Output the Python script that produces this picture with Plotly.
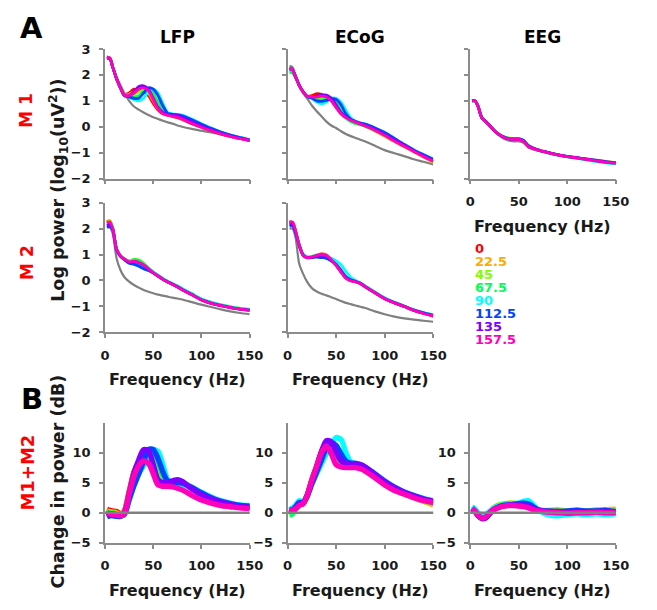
import plotly.graph_objects as go

# ---------------- data ----------------
freq = [2, 5, 8, 12, 16, 20, 25, 30, 35, 40, 45, 50, 55, 60, 65, 70, 75, 80, 90, 100, 110, 120, 130, 140, 150]
orientations = ["0", "22.5", "45", "67.5", "90", "112.5", "135", "157.5"]
colors = ["#ff0000", "#ffaa00", "#80ff00", "#00ff55", "#00ffff", "#0044ff", "#8000ff", "#ff00bb"]
columns = ["LFP", "ECoG", "EEG"]
rows = ["M 1", "M 2"]
yticks_a = [-2, -1, 0, 1, 2, 3]
yticks_b = [-5, 0, 5, 10]
xticks = [0, 50, 100, 150]

# Panel A, M1, LFP (log power)
lfp_m1_gray = [2.7, 2.6, 2.3, 1.9, 1.6, 1.3, 1.0, 0.78, 0.66, 0.55, 0.45, 0.37, 0.3, 0.23, 0.17, 0.12, 0.05, 0.0, -0.08, -0.15, -0.22, -0.29, -0.36, -0.45, -0.56]
lfp_m1 = [
    [2.68, 2.65, 2.3, 1.85, 1.5, 1.25, 1.3, 1.45, 1.4, 1.35, 1.2, 0.9, 0.65, 0.5, 0.45, 0.4, 0.35, 0.28, 0.12, -0.02, -0.15, -0.27, -0.37, -0.45, -0.52],
    [2.68, 2.65, 2.3, 1.85, 1.5, 1.24, 1.25, 1.35, 1.4, 1.45, 1.3, 1.0, 0.7, 0.52, 0.45, 0.42, 0.38, 0.3, 0.15, 0.0, -0.13, -0.26, -0.36, -0.45, -0.52],
    [2.66, 2.64, 2.3, 1.85, 1.5, 1.22, 1.2, 1.25, 1.35, 1.45, 1.4, 1.15, 0.8, 0.55, 0.48, 0.45, 0.42, 0.35, 0.2, 0.05, -0.1, -0.23, -0.34, -0.43, -0.5],
    [2.66, 2.64, 2.3, 1.85, 1.5, 1.2, 1.15, 1.15, 1.2, 1.35, 1.45, 1.3, 0.95, 0.6, 0.5, 0.47, 0.44, 0.38, 0.22, 0.07, -0.08, -0.22, -0.33, -0.42, -0.5],
    [2.64, 2.62, 2.3, 1.85, 1.5, 1.2, 1.15, 1.05, 1.0, 1.1, 1.35, 1.45, 1.3, 0.9, 0.55, 0.5, 0.48, 0.45, 0.3, 0.12, -0.05, -0.2, -0.32, -0.42, -0.5],
    [2.64, 2.62, 2.3, 1.85, 1.5, 1.2, 1.15, 1.1, 1.1, 1.3, 1.5, 1.45, 1.2, 0.8, 0.52, 0.48, 0.46, 0.42, 0.27, 0.1, -0.06, -0.2, -0.32, -0.42, -0.5],
    [2.66, 2.64, 2.3, 1.85, 1.5, 1.22, 1.2, 1.35, 1.55, 1.58, 1.45, 1.1, 0.75, 0.55, 0.47, 0.45, 0.45, 0.38, 0.2, 0.03, -0.12, -0.25, -0.36, -0.45, -0.52],
    [2.68, 2.65, 2.3, 1.85, 1.5, 1.22, 1.2, 1.3, 1.45, 1.5, 1.4, 1.05, 0.7, 0.5, 0.45, 0.4, 0.37, 0.3, 0.13, -0.02, -0.15, -0.27, -0.37, -0.46, -0.53],
]

# Panel A, M1, ECoG
ecog_m1_gray = [2.35, 2.3, 2.0, 1.6, 1.3, 1.1, 0.82, 0.6, 0.4, 0.2, 0.05, -0.05, -0.17, -0.28, -0.36, -0.43, -0.5, -0.57, -0.73, -0.9, -1.02, -1.13, -1.25, -1.35, -1.45]
ecog_m1 = [
    [2.25, 2.2, 1.95, 1.6, 1.35, 1.18, 1.2, 1.28, 1.25, 1.15, 1.0, 0.75, 0.5, 0.35, 0.25, 0.18, 0.1, 0.02, -0.15, -0.35, -0.55, -0.75, -0.95, -1.15, -1.35],
    [2.22, 2.18, 1.95, 1.6, 1.35, 1.18, 1.15, 1.15, 1.2, 1.2, 1.05, 0.8, 0.52, 0.35, 0.25, 0.18, 0.1, 0.02, -0.16, -0.37, -0.57, -0.77, -0.97, -1.17, -1.38],
    [2.15, 2.12, 1.92, 1.6, 1.35, 1.17, 1.12, 1.1, 1.1, 1.15, 1.1, 0.9, 0.6, 0.4, 0.27, 0.18, 0.1, 0.03, -0.14, -0.34, -0.54, -0.74, -0.94, -1.13, -1.33],
    [2.1, 2.08, 1.9, 1.6, 1.35, 1.17, 1.12, 1.05, 1.02, 1.1, 1.12, 0.95, 0.65, 0.35, 0.2, 0.12, 0.08, 0.02, -0.13, -0.32, -0.52, -0.72, -0.92, -1.1, -1.3],
    [2.2, 2.18, 1.95, 1.6, 1.35, 1.17, 1.1, 0.95, 0.88, 0.95, 1.1, 1.1, 0.95, 0.65, 0.35, 0.22, 0.15, 0.1, -0.05, -0.22, -0.45, -0.67, -0.88, -1.07, -1.25],
    [2.22, 2.2, 1.95, 1.6, 1.35, 1.17, 1.1, 1.0, 0.98, 1.02, 1.08, 1.05, 0.85, 0.5, 0.3, 0.2, 0.14, 0.1, -0.05, -0.22, -0.45, -0.68, -0.9, -1.08, -1.25],
    [2.25, 2.2, 1.95, 1.6, 1.35, 1.18, 1.15, 1.18, 1.22, 1.22, 1.1, 0.85, 0.55, 0.38, 0.27, 0.2, 0.12, 0.05, -0.1, -0.3, -0.5, -0.7, -0.92, -1.12, -1.32],
    [2.25, 2.2, 1.95, 1.6, 1.35, 1.18, 1.15, 1.15, 1.18, 1.15, 1.0, 0.75, 0.5, 0.35, 0.25, 0.18, 0.1, 0.03, -0.13, -0.33, -0.55, -0.75, -0.95, -1.15, -1.32],
]

# Panel A, M1, EEG
eeg_m1_gray = [1.0, 1.0, 0.78, 0.33, 0.17, 0.02, -0.18, -0.34, -0.46, -0.54, -0.56, -0.56, -0.62, -0.8, -0.87, -0.92, -0.96, -1.0, -1.08, -1.14, -1.2, -1.26, -1.31, -1.36, -1.4]
eeg_m1 = [
    [1.0, 1.0, 0.8, 0.35, 0.2, 0.05, -0.15, -0.3, -0.4, -0.46, -0.47, -0.48, -0.55, -0.75, -0.83, -0.9, -0.95, -1.0, -1.08, -1.15, -1.2, -1.26, -1.3, -1.35, -1.38],
    [1.0, 1.0, 0.8, 0.36, 0.21, 0.06, -0.14, -0.29, -0.39, -0.45, -0.46, -0.47, -0.54, -0.74, -0.83, -0.9, -0.95, -1.0, -1.08, -1.15, -1.2, -1.25, -1.3, -1.34, -1.38],
    [1.0, 1.0, 0.8, 0.36, 0.21, 0.06, -0.14, -0.29, -0.39, -0.44, -0.45, -0.46, -0.53, -0.74, -0.83, -0.9, -0.95, -1.0, -1.08, -1.15, -1.21, -1.26, -1.31, -1.36, -1.39],
    [1.0, 1.0, 0.8, 0.35, 0.2, 0.05, -0.15, -0.3, -0.4, -0.45, -0.46, -0.46, -0.53, -0.75, -0.84, -0.9, -0.95, -1.0, -1.08, -1.15, -1.21, -1.27, -1.32, -1.37, -1.41],
    [1.0, 1.0, 0.82, 0.38, 0.22, 0.06, -0.14, -0.3, -0.4, -0.46, -0.47, -0.46, -0.52, -0.72, -0.82, -0.9, -0.96, -1.01, -1.09, -1.16, -1.22, -1.28, -1.34, -1.39, -1.43],
    [1.0, 1.0, 0.8, 0.36, 0.21, 0.05, -0.15, -0.3, -0.4, -0.46, -0.47, -0.47, -0.53, -0.73, -0.82, -0.89, -0.94, -0.99, -1.07, -1.14, -1.19, -1.24, -1.29, -1.34, -1.38],
    [1.0, 1.0, 0.8, 0.35, 0.2, 0.05, -0.15, -0.3, -0.41, -0.47, -0.48, -0.48, -0.55, -0.75, -0.83, -0.9, -0.95, -1.0, -1.08, -1.15, -1.2, -1.26, -1.31, -1.36, -1.4],
    [1.0, 1.0, 0.8, 0.35, 0.2, 0.05, -0.15, -0.3, -0.41, -0.47, -0.48, -0.49, -0.56, -0.76, -0.84, -0.9, -0.95, -1.0, -1.08, -1.15, -1.2, -1.26, -1.31, -1.36, -1.4],
]

# Panel A, M2, LFP
lfp_m2_gray = [2.05, 2.05, 1.8, 0.85, 0.4, 0.13, -0.05, -0.18, -0.28, -0.37, -0.44, -0.5, -0.55, -0.59, -0.63, -0.67, -0.7, -0.74, -0.84, -0.94, -1.03, -1.12, -1.2, -1.26, -1.31]
lfp_m2 = [
    [2.28, 2.3, 2.0, 1.2, 0.95, 0.83, 0.72, 0.77, 0.74, 0.62, 0.46, 0.3, 0.18, 0.05, -0.05, -0.15, -0.25, -0.35, -0.55, -0.75, -0.88, -0.97, -1.04, -1.1, -1.14],
    [2.26, 2.28, 2.0, 1.2, 0.95, 0.83, 0.73, 0.79, 0.77, 0.64, 0.47, 0.31, 0.18, 0.05, -0.05, -0.14, -0.24, -0.34, -0.54, -0.74, -0.87, -0.96, -1.03, -1.09, -1.13],
    [2.24, 2.26, 2.0, 1.2, 0.95, 0.83, 0.74, 0.81, 0.79, 0.66, 0.48, 0.31, 0.19, 0.06, -0.04, -0.13, -0.22, -0.32, -0.52, -0.72, -0.85, -0.95, -1.02, -1.08, -1.12],
    [2.22, 2.24, 2.0, 1.2, 0.95, 0.83, 0.74, 0.8, 0.78, 0.65, 0.48, 0.31, 0.19, 0.06, -0.04, -0.13, -0.22, -0.32, -0.52, -0.72, -0.85, -0.95, -1.02, -1.08, -1.12],
    [2.18, 2.2, 1.98, 1.2, 0.95, 0.82, 0.7, 0.68, 0.62, 0.55, 0.45, 0.33, 0.2, 0.07, -0.03, -0.12, -0.22, -0.32, -0.52, -0.72, -0.85, -0.95, -1.03, -1.09, -1.13],
    [2.05, 2.08, 1.95, 1.18, 0.93, 0.8, 0.66, 0.62, 0.55, 0.45, 0.38, 0.28, 0.16, 0.04, -0.06, -0.15, -0.25, -0.35, -0.55, -0.75, -0.88, -0.97, -1.05, -1.11, -1.15],
    [2.12, 2.15, 1.98, 1.18, 0.94, 0.82, 0.7, 0.72, 0.68, 0.58, 0.44, 0.29, 0.17, 0.04, -0.06, -0.15, -0.25, -0.36, -0.56, -0.76, -0.89, -0.98, -1.05, -1.11, -1.15],
    [2.22, 2.25, 2.0, 1.2, 0.95, 0.83, 0.72, 0.74, 0.7, 0.6, 0.45, 0.3, 0.17, 0.04, -0.06, -0.15, -0.26, -0.36, -0.56, -0.76, -0.89, -0.98, -1.05, -1.11, -1.16],
]

# Panel A, M2, ECoG
ecog_m2_gray = [2.0, 2.0, 1.7, 0.64, 0.25, -0.05, -0.3, -0.43, -0.52, -0.58, -0.65, -0.72, -0.8, -0.87, -0.92, -0.97, -1.02, -1.07, -1.2, -1.31, -1.4, -1.47, -1.52, -1.56, -1.6]
ecog_m2 = [
    [2.25, 2.25, 1.95, 1.35, 0.98, 0.88, 0.9, 0.97, 1.02, 0.98, 0.8, 0.58, 0.32, 0.1, 0.0, -0.05, -0.12, -0.24, -0.47, -0.7, -0.86, -1.0, -1.15, -1.27, -1.37],
    [2.22, 2.22, 1.93, 1.35, 0.98, 0.87, 0.9, 0.97, 1.0, 0.96, 0.8, 0.58, 0.32, 0.1, 0.0, -0.05, -0.12, -0.25, -0.48, -0.71, -0.87, -1.01, -1.16, -1.28, -1.38],
    [2.2, 2.2, 1.92, 1.35, 0.99, 0.88, 0.92, 0.98, 1.0, 0.95, 0.8, 0.6, 0.34, 0.1, 0.0, -0.05, -0.12, -0.24, -0.47, -0.7, -0.86, -1.0, -1.15, -1.26, -1.36],
    [2.2, 2.2, 1.92, 1.35, 0.99, 0.89, 0.92, 0.98, 1.0, 0.95, 0.8, 0.6, 0.35, 0.11, 0.01, -0.04, -0.11, -0.23, -0.46, -0.69, -0.85, -0.99, -1.14, -1.25, -1.35],
    [2.2, 2.2, 1.9, 1.4, 1.02, 0.92, 0.92, 0.95, 0.97, 0.92, 0.85, 0.75, 0.6, 0.35, 0.12, 0.0, -0.1, -0.22, -0.45, -0.67, -0.85, -1.0, -1.14, -1.25, -1.34],
    [2.1, 2.12, 1.85, 1.35, 0.98, 0.88, 0.88, 0.9, 0.88, 0.85, 0.75, 0.62, 0.4, 0.15, 0.02, -0.04, -0.11, -0.24, -0.48, -0.7, -0.86, -1.0, -1.15, -1.26, -1.35],
    [2.18, 2.18, 1.9, 1.35, 0.98, 0.88, 0.9, 0.96, 0.98, 0.94, 0.8, 0.6, 0.34, 0.1, 0.0, -0.05, -0.12, -0.25, -0.48, -0.71, -0.87, -1.01, -1.16, -1.27, -1.37],
    [2.25, 2.25, 1.95, 1.35, 0.98, 0.88, 0.9, 0.96, 1.0, 0.96, 0.8, 0.58, 0.32, 0.08, -0.02, -0.06, -0.13, -0.25, -0.48, -0.71, -0.87, -1.01, -1.16, -1.28, -1.38],
]

# Panel B, M1+M2, change in power (dB)
lfp_b = [
    [0.6, 0.4, 0.3, 0.2, -0.2, 0.3, 3.5, 6.8, 8.5, 9.8, 10.0, 8.5, 6.0, 5.0, 4.9, 5.0, 5.1, 4.9, 4.0, 3.0, 2.3, 1.8, 1.4, 1.1, 0.9],
    [0.3, 0.2, 0.1, 0.0, -0.3, 0.2, 3.3, 6.5, 8.3, 9.5, 10.2, 9.0, 6.5, 5.2, 4.9, 5.0, 5.1, 4.9, 4.0, 3.0, 2.3, 1.8, 1.4, 1.1, 0.9],
    [0.0, 0.1, 0.0, -0.2, -0.4, 0.0, 3.0, 6.0, 8.0, 9.2, 10.3, 9.8, 7.5, 5.5, 5.0, 5.0, 5.1, 5.0, 4.1, 3.1, 2.4, 1.9, 1.5, 1.2, 1.0],
    [-0.2, 0.0, -0.1, -0.3, -0.5, -0.1, 2.8, 5.8, 7.6, 8.8, 10.0, 10.2, 8.5, 6.2, 5.2, 5.0, 5.1, 5.0, 4.2, 3.2, 2.5, 1.9, 1.5, 1.2, 1.0],
    [-0.5, -0.3, -0.4, -0.5, -0.6, -0.3, 2.0, 4.5, 6.5, 7.8, 9.0, 10.5, 10.2, 8.0, 5.5, 4.9, 4.9, 4.7, 4.2, 3.4, 2.6, 2.0, 1.6, 1.3, 1.2],
    [-0.7, -0.5, -0.5, -0.6, -0.6, -0.3, 2.2, 4.5, 6.5, 8.5, 10.5, 10.5, 9.0, 6.8, 5.2, 4.9, 5.0, 4.9, 4.2, 3.3, 2.5, 1.9, 1.5, 1.2, 1.1],
    [-0.3, -0.2, -0.2, -0.3, -0.5, 0.0, 3.2, 6.5, 8.8, 10.5, 10.3, 8.0, 5.5, 5.0, 5.1, 5.3, 5.5, 5.2, 4.0, 3.0, 2.3, 1.8, 1.4, 1.1, 0.9],
    [0.0, -0.2, -0.3, -0.4, -0.5, -0.2, 3.0, 6.0, 7.8, 8.6, 8.2, 6.5, 4.6, 4.4, 4.4, 4.3, 4.1, 3.8, 2.9, 2.1, 1.6, 1.2, 1.0, 0.8, 0.7],
]
ecog_b = [
    [0.6, 0.5, 0.8, 1.4, 1.6, 2.8, 5.5, 7.8, 10.2, 11.6, 10.5, 9.0, 8.2, 8.0, 8.0, 8.0, 7.8, 7.4, 6.2, 5.0, 4.0, 3.3, 2.7, 2.1, 1.6],
    [0.4, 0.3, 0.7, 1.3, 1.5, 2.7, 5.3, 7.6, 10.0, 11.5, 10.6, 9.2, 8.3, 7.9, 7.8, 7.8, 7.6, 7.2, 6.0, 4.8, 3.8, 3.1, 2.5, 1.9, 1.3],
    [0.0, 0.2, 0.6, 1.3, 1.5, 2.6, 5.2, 7.4, 9.5, 11.2, 11.0, 9.8, 8.5, 7.8, 7.6, 7.7, 7.6, 7.3, 6.1, 4.9, 3.9, 3.2, 2.6, 2.0, 1.5],
    [-0.4, -0.2, 0.5, 1.4, 1.6, 2.6, 5.0, 7.0, 9.0, 10.8, 11.3, 10.2, 8.8, 7.8, 7.5, 7.6, 7.6, 7.3, 6.2, 5.0, 4.0, 3.3, 2.7, 2.1, 1.7],
    [0.5, 0.8, 1.2, 2.0, 1.8, 2.8, 4.8, 6.5, 8.2, 9.8, 11.2, 12.5, 12.2, 10.0, 8.5, 8.2, 8.0, 7.6, 6.5, 5.3, 4.3, 3.5, 2.9, 2.4, 2.0],
    [0.2, 0.4, 0.9, 1.7, 1.7, 2.7, 4.8, 6.8, 8.8, 10.8, 11.6, 11.2, 9.8, 8.6, 8.2, 8.1, 7.9, 7.5, 6.4, 5.2, 4.2, 3.4, 2.8, 2.2, 1.8],
    [0.5, 0.5, 0.8, 1.4, 1.6, 2.8, 5.3, 7.6, 10.2, 12.0, 11.8, 10.0, 8.6, 8.2, 8.2, 8.2, 8.0, 7.6, 6.4, 5.2, 4.2, 3.4, 2.8, 2.3, 1.9],
    [0.6, 0.4, 0.6, 1.2, 1.5, 2.8, 5.4, 7.7, 10.0, 11.1, 9.8, 8.0, 7.6, 7.5, 7.5, 7.5, 7.3, 6.9, 5.8, 4.6, 3.7, 3.1, 2.5, 2.0, 1.7],
]
eeg_b = [
    [0.6, 0.3, -0.2, -0.6, -0.5, 0.0, 0.6, 1.0, 1.2, 1.3, 1.3, 1.3, 1.2, 1.0, 0.6, 0.3, 0.2, 0.1, 0.0, -0.1, 0.1, 0.0, 0.2, 0.1, 0.2],
    [0.5, 0.2, -0.3, -0.7, -0.5, 0.1, 0.8, 1.2, 1.3, 1.4, 1.4, 1.3, 1.2, 1.0, 0.7, 0.4, 0.3, 0.2, 0.3, 0.2, 0.3, 0.2, 0.4, 0.5, 0.6],
    [0.8, 0.4, -0.2, -0.7, -0.6, 0.1, 0.9, 1.3, 1.5, 1.6, 1.6, 1.5, 1.4, 1.2, 0.8, 0.5, 0.4, 0.4, 0.5, 0.3, 0.4, 0.3, 0.5, 0.4, 0.4],
    [0.7, 0.3, -0.3, -0.7, -0.6, 0.0, 0.8, 1.2, 1.4, 1.5, 1.5, 1.5, 1.5, 1.3, 0.9, 0.5, 0.3, 0.2, 0.1, 0.0, 0.2, 0.1, 0.3, 0.2, 0.3],
    [1.0, 0.6, 0.0, -0.4, -0.3, 0.2, 0.8, 1.1, 1.3, 1.4, 1.5, 1.6, 1.9, 2.0, 1.3, 0.5, 0.0, -0.3, -0.5, -0.3, -0.2, -0.3, -0.2, -0.3, -0.2],
    [0.7, 0.2, -0.5, -1.0, -0.9, -0.2, 0.6, 1.0, 1.2, 1.3, 1.4, 1.5, 1.6, 1.5, 1.0, 0.5, 0.3, 0.3, 0.2, 0.3, 0.4, 0.3, 0.3, 0.4, 0.1],
    [0.6, 0.2, -0.4, -0.9, -0.8, -0.1, 0.6, 1.0, 1.2, 1.3, 1.3, 1.3, 1.3, 1.1, 0.7, 0.4, 0.3, 0.2, 0.2, 0.1, 0.2, 0.1, 0.2, 0.2, 0.2],
    [0.7, 0.3, -0.3, -0.9, -0.7, 0.0, 0.6, 0.9, 1.1, 1.2, 1.2, 1.1, 1.0, 0.8, 0.5, 0.3, 0.2, 0.1, 0.0, -0.1, 0.0, 0.0, 0.1, 0.0, 0.0],
]

# ---------------- layout helpers ----------------
W, H = 657, 610
FONT = "DejaVu Sans"
TXT = "#1a1a1a"
AXC = "#8c8c8c"


def px_x(p):
    return p / W


def px_y(p):
    return 1 - p / H


col_px = [(103, 252), (291, 441), (479, 629)]
row_px = [(43, 176), (200.7, 333.3), (426, 549.3)]

# panel: (col, row, curves, gray, y-tick labels shown, x-tick labels shown, line width)
panels = [
    (0, 0, lfp_m1, lfp_m1_gray, True, False, 2.8),
    (1, 0, ecog_m1, ecog_m1_gray, False, False, 2.8),
    (2, 0, eeg_m1, eeg_m1_gray, False, True, 2.8),
    (0, 1, lfp_m2, lfp_m2_gray, True, True, 2.8),
    (1, 1, ecog_m2, ecog_m2_gray, False, True, 2.8),
    (0, 2, lfp_b, None, True, True, 5.4),
    (1, 2, ecog_b, None, True, True, 5.4),
    (2, 2, eeg_b, None, True, True, 5.4),
]

fig = go.Figure()
layout = dict(
    width=W, height=H, margin=dict(l=0, r=0, t=0, b=0),
    paper_bgcolor="white", plot_bgcolor="white", showlegend=False,
    font=dict(family=FONT, color=TXT),
)
shapes = []
tickfont = dict(family=FONT, size=13, color=TXT, weight="bold")

for i, (c, r, curves, gray, ylab, xlab, lw) in enumerate(panels):
    n = i + 1
    xa = "x" if n == 1 else f"x{n}"
    ya = "y" if n == 1 else f"y{n}"
    if gray is not None:
        fig.add_trace(go.Scatter(x=freq, y=gray, mode="lines", xaxis=xa, yaxis=ya,
                                 line=dict(color="#808080", width=2.2, shape="spline", smoothing=0.8),
                                 hoverinfo="skip"))
    for k, vals in enumerate(curves):
        fig.add_trace(go.Scatter(x=freq, y=vals, mode="lines", xaxis=xa, yaxis=ya,
                                 name=orientations[k],
                                 line=dict(color=colors[k], width=lw, shape="spline", smoothing=0.8)))
    x0, x1 = col_px[c]
    y0, y1 = row_px[r]
    common = dict(showline=True, linecolor=AXC, linewidth=1.6, ticks="outside", ticklen=4,
                  tickcolor=AXC, tickwidth=1.6, showgrid=False, zeroline=False,
                  tickfont=tickfont, ticklabelstandoff=6, fixedrange=True)
    layout["xaxis" if n == 1 else f"xaxis{n}"] = dict(
        common, domain=[px_x(x0), px_x(x1)], range=[0, 150], tickvals=xticks,
        showticklabels=xlab, anchor=ya)
    if r < 2:
        yr, yt = [-2, 3], yticks_a
    else:
        yr, yt = [-5, 15], yticks_b
        shapes.append(dict(type="line", xref=f"{xa} domain", yref=ya, x0=0, x1=1, y0=0, y1=0,
                           line=dict(color="#808080", width=2.4), layer="above"))
    layout["yaxis" if n == 1 else f"yaxis{n}"] = dict(
        common, domain=[px_y(y1), px_y(y0)], range=yr, tickvals=yt,
        showticklabels=ylab, anchor=xa)

ann = []


def add_text(text, x, y, size, color=TXT, angle=0, bold=True, xanchor="center"):
    ann.append(dict(text=text, x=px_x(x), y=px_y(y), xref="paper", yref="paper",
                    showarrow=False, textangle=angle, xanchor=xanchor, yanchor="middle",
                    borderpad=0,
                    font=dict(family=FONT, size=size, color=color,
                              weight="bold" if bold else "normal")))


add_text("A", 27, 22, 29, color="black")
add_text("B", 28, 402, 29, color="black")
for c, name in enumerate(columns):
    add_text(name, (col_px[c][0] + col_px[c][1]) / 2, 31, 17, color="black")
add_text(rows[0], 22, 106, 17, color="#ff0000", angle=-90)
add_text(rows[1], 22, 262, 17, color="#ff0000", angle=-90)
add_text("M1+M2", 23, 477, 18, color="#ff0000", angle=-90)
add_text("Log power (log<sub>10</sub>(uV<sup>2</sup>))", 55, 188, 17.5, angle=-90)
add_text("Change in power (dB)", 55, 486, 17.5, angle=-90)

freq_title_pos = [(0, 382), (1, 382), (2, 225), (0, 598), (1, 598), (2, 598)]
for c, y in freq_title_pos:
    add_text("Frequency (Hz)", (col_px[c][0] + col_px[c][1]) / 2, y, 16)

for k, lab in enumerate(orientations):
    add_text(lab, 483, 248 + 13.3 * k, 13, color=colors[k], xanchor="left")

layout["annotations"] = ann
layout["shapes"] = shapes
fig.update_layout(**layout)
fig.write_html("out.html")
